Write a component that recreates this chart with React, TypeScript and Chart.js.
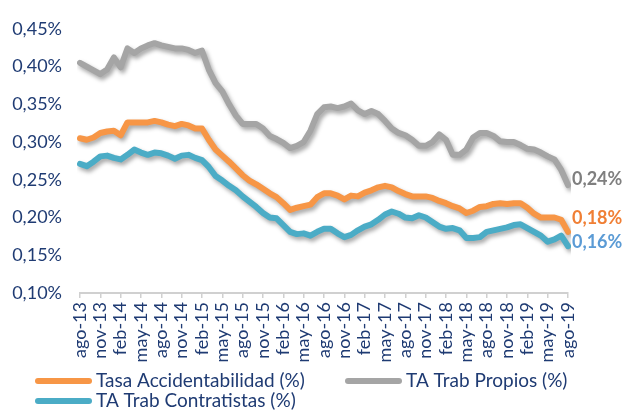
import React, { useEffect, useRef } from "react";
import { Chart, registerables } from "chart.js";

Chart.register(...registerables);

const MONTHS = [
  "ago-13","sep-13","oct-13","nov-13","dic-13",
  "ene-14","feb-14","mar-14","abr-14","may-14","jun-14","jul-14","ago-14","sep-14","oct-14","nov-14","dic-14",
  "ene-15","feb-15","mar-15","abr-15","may-15","jun-15","jul-15","ago-15","sep-15","oct-15","nov-15","dic-15",
  "ene-16","feb-16","mar-16","abr-16","may-16","jun-16","jul-16","ago-16","sep-16","oct-16","nov-16","dic-16",
  "ene-17","feb-17","mar-17","abr-17","may-17","jun-17","jul-17","ago-17","sep-17","oct-17","nov-17","dic-17",
  "ene-18","feb-18","mar-18","abr-18","may-18","jun-18","jul-18","ago-18","sep-18","oct-18","nov-18","dic-18",
  "ene-19","feb-19","mar-19","abr-19","may-19","jun-19","jul-19","ago-19",
];

const TASA = [
  0.305,0.303,0.306,0.312,0.314,0.315,0.309,0.326,0.326,0.326,0.326,0.328,0.326,0.323,0.321,0.324,0.322,0.318,0.318,
  0.303,0.290,0.282,0.274,0.265,0.256,0.249,0.244,0.238,0.232,0.227,0.219,0.210,0.213,0.215,0.217,0.227,0.232,0.232,
  0.229,0.224,0.229,0.228,0.233,0.236,0.240,0.242,0.240,0.235,0.231,0.228,0.228,0.228,0.226,0.222,0.219,0.215,0.212,
  0.206,0.209,0.214,0.215,0.218,0.219,0.218,0.219,0.219,0.213,0.205,0.200,0.200,0.200,0.197,0.181,
];

const PROPIOS = [
  0.405,0.400,0.395,0.390,0.396,0.412,0.399,0.424,0.418,0.424,0.428,0.431,0.428,0.426,0.424,0.424,0.422,0.418,0.421,
  0.396,0.378,0.367,0.350,0.335,0.324,0.324,0.324,0.318,0.308,0.304,0.299,0.292,0.295,0.300,0.315,0.337,0.346,0.347,
  0.345,0.347,0.351,0.342,0.337,0.341,0.337,0.328,0.318,0.312,0.309,0.303,0.295,0.295,0.300,0.310,0.303,0.283,0.283,
  0.290,0.306,0.312,0.312,0.308,0.301,0.300,0.300,0.296,0.291,0.290,0.286,0.281,0.277,0.263,0.243,
];

const CONTRATISTAS = [
  0.271,0.268,0.274,0.281,0.282,0.279,0.277,0.283,0.290,0.286,0.283,0.286,0.285,0.282,0.278,0.282,0.283,0.279,0.276,
  0.267,0.255,0.249,0.242,0.236,0.228,0.221,0.214,0.206,0.200,0.199,0.190,0.181,0.178,0.179,0.176,0.181,0.185,0.185,
  0.179,0.174,0.177,0.183,0.188,0.191,0.197,0.204,0.208,0.205,0.200,0.199,0.203,0.200,0.194,0.188,0.185,0.186,0.183,
  0.173,0.173,0.174,0.181,0.183,0.185,0.187,0.190,0.191,0.186,0.181,0.176,0.168,0.171,0.176,0.162,
];

const SERIES_NAMES = ["Tasa Accidentabilidad (%)", "TA Trab Propios (%)", "TA Trab Contratistas (%)"];
const END_LABELS = ["0,18%", "0,24%", "0,16%"];

const ORANGE = "#F79646";
const GRAY = "#A5A5A5";
const TEAL = "#4BACC6";
const NAVY = "#1F3B73";
const AXIS = "#D0D0D0";
const END_COLORS = ["#F07F35", "#7F7F7F", "#5B9BD5"];
const END_DY = [-14, -6, -4];
const FONT = "Lato, 'Open Sans', sans-serif";

const fmt = (v: number) => v.toFixed(2).replace(".", ",") + "%";

const shadowPlugin = {
  id: "lineShadow",
  beforeDatasetDraw(chart: any) {
    const ctx = chart.ctx;
    ctx.save();
    ctx.shadowColor = "rgba(0,0,0,0.35)";
    ctx.shadowBlur = 4;
    ctx.shadowOffsetX = 2;
    ctx.shadowOffsetY = 3;
  },
  afterDatasetDraw(chart: any) {
    chart.ctx.restore();
  },
};

const endLabelPlugin = {
  id: "endLabels",
  afterDatasetsDraw(chart: any) {
    const ctx = chart.ctx;
    ctx.save();
    ctx.font = `bold 18px ${FONT}`;
    ctx.textAlign = "left";
    ctx.textBaseline = "middle";
    chart.data.datasets.forEach((ds: any, i: number) => {
      const meta = chart.getDatasetMeta(i);
      const pt = meta.data[meta.data.length - 1];
      if (!pt) return;
      ctx.fillStyle = END_COLORS[i];
      ctx.fillText(END_LABELS[i], pt.x + 4, pt.y + END_DY[i]);
    });
    ctx.restore();
  },
};

const legendPlugin = {
  id: "customLegend",
  afterDraw(chart: any) {
    const ctx = chart.ctx;
    const items = [
      { x: 35, y: 381 },
      { x: 345, y: 381 },
      { x: 35, y: 401 },
    ];
    ctx.save();
    ctx.font = `19px ${FONT}`;
    ctx.textBaseline = "middle";
    ctx.textAlign = "left";
    chart.data.datasets.forEach((ds: any, i: number) => {
      const it = items[i];
      ctx.strokeStyle = ds.borderColor;
      ctx.lineWidth = 6;
      ctx.lineCap = "round";
      ctx.beginPath();
      ctx.moveTo(it.x + 3, it.y);
      ctx.lineTo(it.x + 54, it.y);
      ctx.stroke();
      ctx.fillStyle = NAVY;
      ctx.fillText(ds.label, it.x + 61, it.y);
    });
    ctx.restore();
  },
};

export default function App() {
  const ref = useRef<HTMLCanvasElement | null>(null);

  useEffect(() => {
    document.body.style.margin = "0";
    const canvas = ref.current;
    if (!canvas) return;
    const mk = (label: string, data: number[], color: string, order: number) => ({
      label,
      data,
      borderColor: color,
      backgroundColor: color,
      borderWidth: 6,
      pointRadius: 0,
      tension: 0,
      fill: false,
      borderJoinStyle: "round" as const,
      borderCapStyle: "round" as const,
      order,
    });
    const chart = new Chart(canvas, {
      type: "line",
      data: {
        labels: MONTHS,
        datasets: [
          mk(SERIES_NAMES[0], TASA, ORANGE, 3),
          mk(SERIES_NAMES[1], PROPIOS, GRAY, 2),
          mk(SERIES_NAMES[2], CONTRATISTAS, TEAL, 1),
        ],
      },
      options: {
        responsive: false,
        animation: false,
        devicePixelRatio: 1,
        layout: { padding: { top: 21, right: 54, left: 0, bottom: 0 } },
        plugins: {
          legend: { display: false },
          tooltip: { enabled: false },
        },
        scales: {
          x: {
            type: "category",
            offset: false,
            grid: {
              display: true,
              drawOnChartArea: false,
              drawTicks: true,
              tickLength: 5,
              lineWidth: 1.5,
              color: (c: any) => (c.index % 3 === 0 ? AXIS : "rgba(0,0,0,0)"),
            },
            border: { display: true, color: AXIS, width: 2 },
            ticks: {
              autoSkip: false,
              maxRotation: 90,
              minRotation: 90,
              padding: 4,
              color: NAVY,
              font: { family: FONT, size: 18 },
              callback: (_v: any, i: number) => (i % 3 === 0 ? MONTHS[i] : ""),
            },
            afterFit: (s: any) => {
              s.height = 118;
            },
          },
          y: {
            min: 0.1,
            max: 0.45,
            grid: { display: false, drawTicks: false },
            border: { display: false },
            ticks: {
              stepSize: 0.05,
              padding: 18,
              color: NAVY,
              font: { family: FONT, size: 18 },
              callback: (v: any) => fmt(Number(v)),
            },
            afterFit: (s: any) => {
              s.width = 80;
            },
          },
        },
      },
      plugins: [shadowPlugin, endLabelPlugin, legendPlugin],
    });
    return () => chart.destroy();
  }, []);

  return (
    <div style={{ width: 622, height: 411, position: "relative", background: "#fff" }}>
      <canvas ref={ref} width={622} height={411} style={{ display: "block", width: 622, height: 411 }} />
    </div>
  );
}
